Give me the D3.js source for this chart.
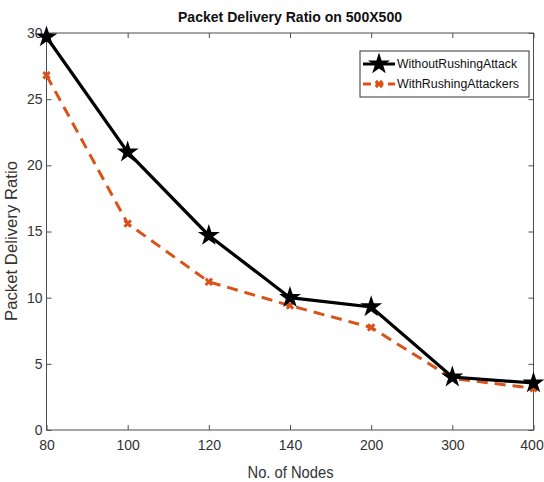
<!DOCTYPE html>
<html><head><meta charset="utf-8">
<script src="https://cdn.jsdelivr.net/npm/d3@7"></script>
<style>body{margin:0;background:#fff}svg{display:block}text{font-family:"Liberation Sans",Arial,sans-serif}</style>
</head><body>
<svg id="c" width="544" height="482"></svg>
<script>
const categories = ["80","100","120","140","200","300","400"];
const withoutRushing = [29.7, 21.0, 14.7, 10.0, 9.3, 4.0, 3.55];
const withRushing = [26.8, 15.6, 11.2, 9.4, 7.75, 3.9, 3.15];
const yTicks = [0,5,10,15,20,25,30];
const seriesNames = ["WithoutRushingAttack","WithRushingAttackers"];

const svg = d3.select("#c");
const L = 46.5, R = 533.5, T = 33, B = 430;
const x = d3.scalePoint().domain(categories).range([L, R]).padding(0);
const y = d3.scaleLinear().domain([0, 30]).range([B, T]);
const axisColor = "#4d4d4d", labelColor = "#333";

// frame
svg.append("rect").attr("x", L).attr("y", T).attr("width", R - L).attr("height", B - T)
  .attr("fill", "none").attr("stroke", axisColor).attr("stroke-width", 1);

// axes with inward ticks
const gx = svg.append("g").attr("transform", `translate(0,${B})`)
  .call(d3.axisBottom(x).tickSize(-5).tickPadding(10));
const gy = svg.append("g").attr("transform", `translate(${L},0)`)
  .call(d3.axisLeft(y).tickValues(yTicks).tickSize(-5).tickPadding(4));
const gt = svg.append("g").attr("transform", `translate(0,${T})`)
  .call(d3.axisTop(x).tickSize(-5).tickFormat(""));
const gr = svg.append("g").attr("transform", `translate(${R},0)`)
  .call(d3.axisRight(y).tickValues(yTicks).tickSize(-5).tickFormat(""));
[gx, gy, gt, gr].forEach(g => {
  g.select(".domain").remove();
  g.selectAll(".tick line").attr("stroke", axisColor);
  g.selectAll(".tick text").attr("fill", labelColor).style("font-size", "14px")
   .style("font-family", '"Liberation Sans",Arial,sans-serif');
});
gx.selectAll(".tick text").attr("dy", "0.71em")
  .attr("dx", (d, i) => i === categories.length - 1 ? -2 : 0);

// title and labels
svg.append("text").attr("x", 290).attr("y", 22).attr("text-anchor", "middle")
  .style("font-size", "14px").style("font-weight", "bold").attr("fill", "#111")
  .attr("textLength", 224).attr("lengthAdjust", "spacingAndGlyphs")
  .text("Packet Delivery Ratio on 500X500");
svg.append("text").attr("x", 290.5).attr("y", 478).attr("text-anchor", "middle")
  .style("font-size", "16px").attr("fill", labelColor)
  .attr("textLength", 86).attr("lengthAdjust", "spacingAndGlyphs").text("No. of Nodes");
svg.append("text").attr("transform", "translate(17,241) rotate(-90)").attr("text-anchor", "middle")
  .style("font-size", "16px").attr("fill", labelColor)
  .attr("textLength", 160).attr("lengthAdjust", "spacingAndGlyphs").text("Packet Delivery Ratio");

const orange = "#D95319";
const line = d3.line().x((d, i) => x(categories[i])).y(d => y(d));

svg.append("path").datum(withRushing).attr("d", line).attr("fill", "none")
  .attr("stroke", orange).attr("stroke-width", 3).attr("stroke-dasharray", "11,7");
svg.append("path").datum(withoutRushing).attr("d", line).attr("fill", "none")
  .attr("stroke", "#000").attr("stroke-width", 3.2);

const star = d3.symbol().type(d3.symbolStar).size(150);
const cross = d3.symbol().type(d3.symbolCross).size(45);

svg.selectAll(".mo").data(withRushing).enter().append("path")
  .attr("d", cross).attr("fill", orange)
  .attr("transform", (d, i) => `translate(${x(categories[i])},${y(d)}) rotate(45)`);
svg.selectAll(".mb").data(withoutRushing).enter().append("path")
  .attr("d", star).attr("fill", "#000")
  .attr("transform", (d, i) => `translate(${x(categories[i])},${y(d)})`);

// legend
const lg = svg.append("g");
lg.append("rect").attr("x", 360).attr("y", 51).attr("width", 169).attr("height", 46)
  .attr("fill", "#fff").attr("stroke", "#333").attr("stroke-width", 1);
const rows = [64, 84];
lg.append("line").attr("x1", 363).attr("x2", 395).attr("y1", rows[0]).attr("y2", rows[0])
  .attr("stroke", "#000").attr("stroke-width", 3);
lg.append("path").attr("d", star).attr("fill", "#000").attr("transform", `translate(379,${rows[0]})`);
lg.append("line").attr("x1", 363).attr("x2", 395).attr("y1", rows[1]).attr("y2", rows[1])
  .attr("stroke", orange).attr("stroke-width", 3).attr("stroke-dasharray", "8,4.5");
lg.append("path").attr("d", cross).attr("fill", orange).attr("transform", `translate(379,${rows[1]}) rotate(45)`);
seriesNames.forEach((n, i) => {
  lg.append("text").attr("x", 397).attr("y", rows[i]).attr("dy", "0.35em")
    .style("font-size", "12px").attr("fill", "#111")
    .attr("textLength", i === 0 ? 120 : 122).attr("lengthAdjust", "spacingAndGlyphs").text(n);
});
</script>
</body></html>
